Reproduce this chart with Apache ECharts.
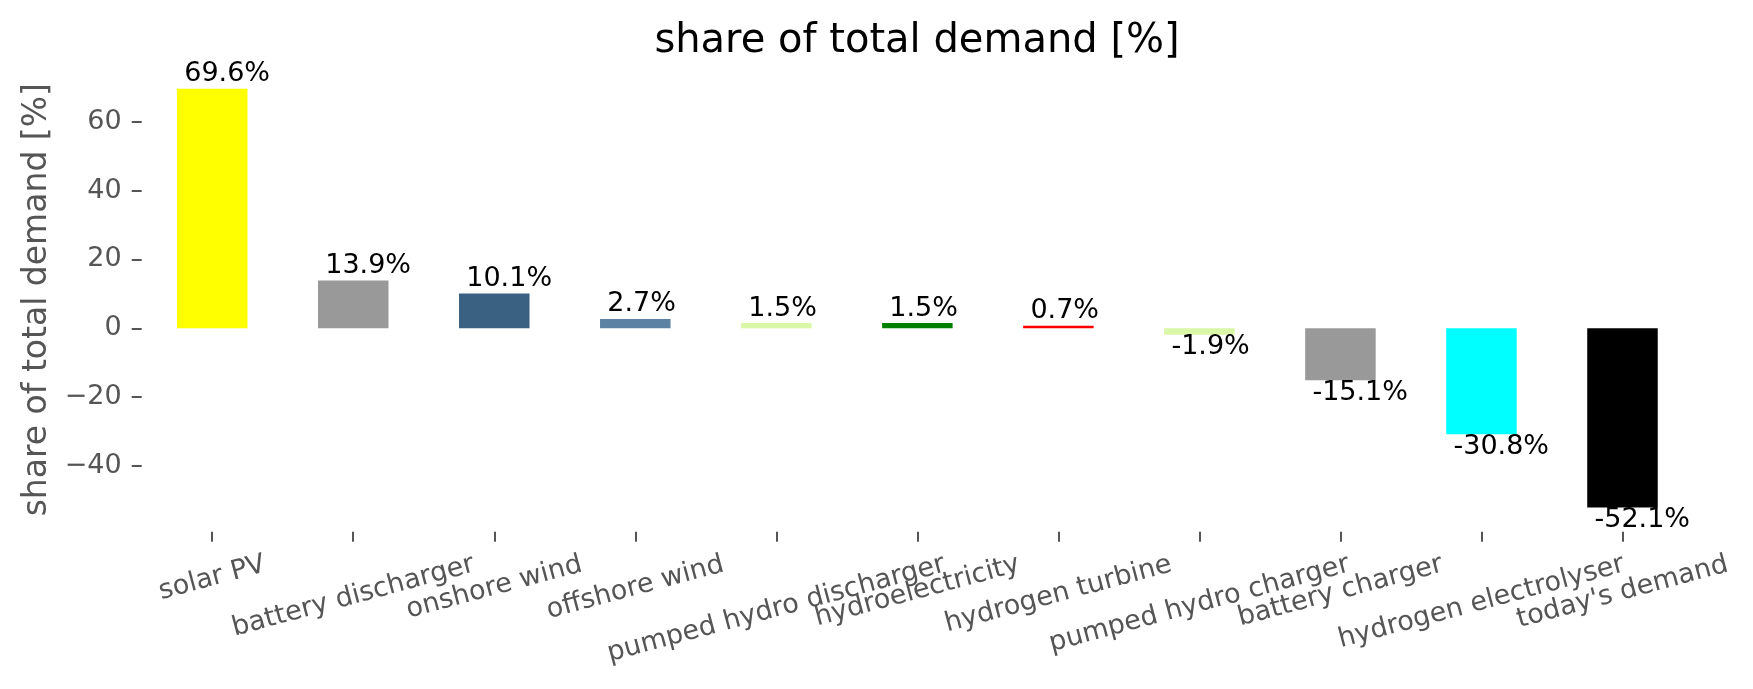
<!DOCTYPE html>
<html>
<head>
<meta charset="utf-8">
<script src="https://cdn.jsdelivr.net/npm/echarts@6/dist/echarts.min.js"></script>
<style>
html,body{margin:0;padding:0;background:#fff;}
#chart{width:1753px;height:689px;}
</style>
</head>
<body>
<div id="chart"></div>
<script>
const categories = ["solar PV","battery discharger","onshore wind","offshore wind","pumped hydro discharger","hydroelectricity","hydrogen turbine","pumped hydro charger","battery charger","hydrogen electrolyser","today's demand"];
const values = [69.6, 13.9, 10.1, 2.7, 1.5, 1.5, 0.7, -1.9, -15.1, -30.8, -52.1];
const barColors = ["#ffff00","#999999","#3b6182","#5b82a3","#d9f7a6","#008000","#ff0000","#d9f7a6","#999999","#00ffff","#000000"];
const yTicks = [-40, -20, 0, 20, 40, 60];

const FONT = "DejaVu Sans";
const FS = 27;
const cv = document.createElement('canvas').getContext('2d');
cv.font = FS + "px '" + FONT + "'";
const rad = 15 * Math.PI / 180;

// rich-text spacers so each rotated label's bounding box is centred under its tick (matplotlib style)
const rich = { t: { fontFamily: FONT, fontSize: FS, color: '#555555', lineHeight: 31 } };
categories.forEach((c, i) => {
  const w = cv.measureText(c).width;
  const D = 0.1294 * w;
  rich['v' + i] = { fontSize: 1, lineHeight: 2 * D * Math.cos(rad), height: 2 * D * Math.cos(rad) };
  rich['h' + i] = { fontSize: 1, width: 2 * D * Math.sin(rad) };
});

const xData = categories.map(c => ({
  value: c,
  textStyle: { align: 'center', verticalAlign: 'middle' }
}));

const barData = values.map((v, i) => ({
  value: v,
  itemStyle: { color: barColors[i] },
  label: v >= 0 ? { position: 'top', distance: 1 } : { position: 'bottom', distance: -1 }
}));

const chart = echarts.init(document.getElementById('chart'), null, { renderer: 'canvas' });
chart.setOption({
  animation: false,
  backgroundColor: '#ffffff',
  title: {
    text: 'share of total demand [%]',
    left: 917,
    top: 22,
    padding: 0,
    textAlign: 'center',
    textStyle: { fontFamily: FONT, fontSize: 40, fontWeight: 'normal', color: '#000' }
  },
  grid: { left: 141.7, right: 60, top: 67.7, bottom: 157.3, containLabel: false, outerBoundsMode: 'none' },
  xAxis: {
    type: 'category',
    data: xData,
    boundaryGap: true,
    axisLine: { show: false, onZero: false },
    axisTick: { show: true, alignWithLabel: true, length: 10, lineStyle: { color: '#555555', width: 2 } },
    axisLabel: {
      interval: 0,
      rotate: 15,
      margin: 32.5,
      hideOverlap: false,
      fontFamily: FONT,
      fontSize: FS,
      color: '#555555',
      rich: rich,
      formatter: (v, i) => '{v' + i + '| }\n{t|' + v + '}{h' + i + '| }'
    },
    splitLine: { show: false }
  },
  yAxis: {
    type: 'value',
    min: -59.1,
    max: 75.7,
    name: 'share of total demand [%]',
    nameLocation: 'middle',
    nameGap: 86,
    nameRotate: 90,
    nameTextStyle: { fontFamily: FONT, fontSize: 33, color: '#555555' },
    axisLine: { show: false },
    axisTick: { show: true, length: 10, customValues: yTicks, lineStyle: { color: '#555555', width: 2 } },
    axisLabel: {
      customValues: yTicks,
      margin: 20,
      fontFamily: FONT,
      fontSize: FS,
      color: '#555555',
      formatter: v => String(v).replace('-', '\u2212')
    },
    splitLine: { show: false }
  },
  series: [{
    type: 'bar',
    data: barData,
    barWidth: '50%',
    label: {
      show: true,
      align: 'left',
      offset: [-28, 0],
      fontFamily: FONT,
      fontSize: FS,
      color: '#000000',
      formatter: p => p.value.toFixed(1) + '%'
    }
  }]
});
</script>
</body>
</html>
